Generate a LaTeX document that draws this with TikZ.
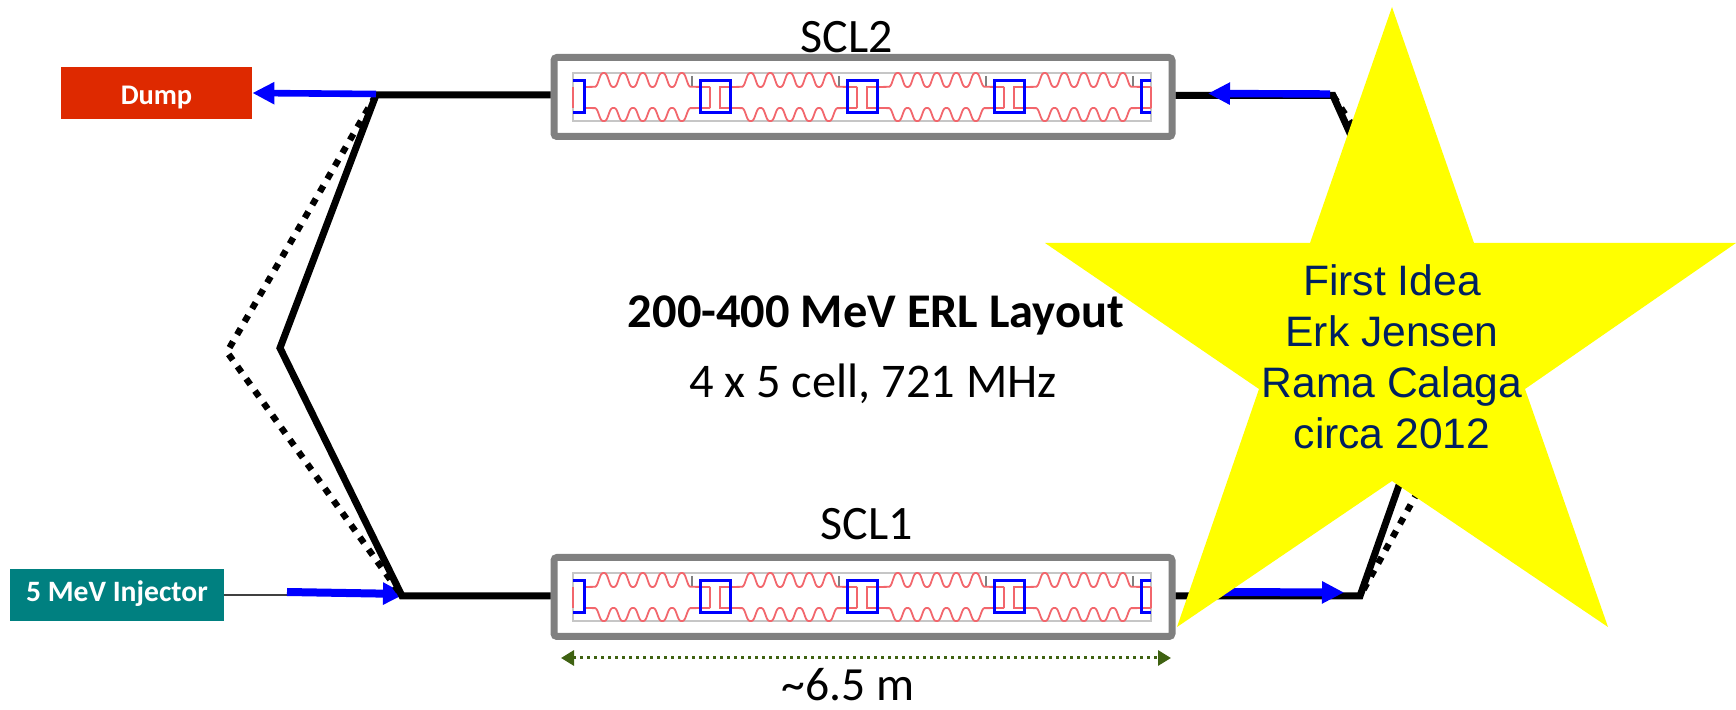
\documentclass[tikz,border=0pt]{standalone}
\usepackage{fontspec}
\setmainfont{Carlito}
\newfontfamily\starfont{Liberation Sans}
\usetikzlibrary{arrows.meta}
\definecolor{DumpClr}{HTML}{DE2900}
\definecolor{InjClr}{HTML}{008080}
\definecolor{StarClr}{rgb}{1,1,0}
\definecolor{StarTxtClr}{HTML}{002060}
\definecolor{SizeClr}{HTML}{3F6212}
\definecolor{WaveClr}{HTML}{F2666C}
\definecolor{BoxClr}{HTML}{808080}
\tikzset{
  beam/.style={line width=3.5pt,black},
  beamdots/.style={line width=3.2pt,black,dash pattern=on 3.5pt off 4pt},
  bluearrow/.style={line width=4pt,blue,-{Triangle[length=11pt,width=10.5pt]}},
  cryobox/.style={draw=BoxClr,line width=3.5pt,rounded corners=1.5pt,minimum width=309pt,minimum height=39.5pt,inner sep=0pt},
  tag/.style={text=white,font=\bfseries,inner sep=0pt},
  wave/.style={WaveClr,line width=.9pt},
  bluebox/.style={blue,line width=1.5pt},
}
% one row of cavities, #1 = shift of the row
\newcommand{\CavityRow}[1]{
\begin{scope}[shift={(0,#1)}]
  \draw[gray!45,line width=.7pt] (573,73) rectangle (1151,121);
  \foreach \i in {0,...,3}{
    \pgfmathsetmacro{\xs}{594+147*\i}
    \draw[wave] (\xs-10,87) -- plot[domain=0.06:4.94,samples=141] ({\xs+19.5*\x},{80+7.6*(cos(360*\x)-.08*cos(1080*\x))}) -- (\xs+116,87);
    \draw[wave] (\xs-10,108) -- plot[domain=0.06:4.94,samples=141] ({\xs+19.5*\x},{114.5-7.1*(cos(360*\x)-.08*cos(1080*\x))}) -- (\xs+116,108);
    \draw[gray,line width=1.1pt] (\xs+98,76) -- (\xs+98,86);
  }
  \draw[wave] (573,87) -- (573,108);
  \draw[wave] (1151,87) -- (1151,108);
  \foreach \i in {0,1,2}{
    \pgfmathsetmacro{\xs}{700+147*\i}
    \draw[wave] (\xs+10,87) -- (\xs+10,108);
    \draw[wave] (\xs+20,87) rectangle (\xs+30,108);
    \draw[bluebox] (\xs,81) rectangle (\xs+30,113);
  }
  \draw[bluebox] (573,81) -- (584,81) -- (584,113) -- (573,113);
  \draw[bluebox] (1151,81) -- (1141,81) -- (1141,113) -- (1151,113);
\end{scope}
}

\begin{document}
\begin{tikzpicture}[x=.5pt,y=-.5pt]
\useasboundingbox (0,0) rectangle (1736,710);

\coordinate (TL) at (376,95);
\coordinate (ML) at (280,348);
\coordinate (BL) at (402,596);
\coordinate (DL) at (227,352);
\coordinate (TR) at (1333,95.5);
\coordinate (MR) at (1447,349);
\coordinate (BR) at (1360,596);
\coordinate (DR) at (1497,349);

\node[cryobox] (SCLtwo) at (863,97) {};
\node[cryobox] (SCLone) at (863,597) {};
\CavityRow{0}
\CavityRow{500}

\node[fill=DumpClr,tag,minimum width=95.5pt,minimum height=26pt] (dump) at (156.5,93) {};
\node[text=white,font=\bfseries\fontsize{14.2}{16}\selectfont,inner sep=0pt] (dumpLbl) at (156.5,98) {Dump};
\node[fill=InjClr,tag,minimum width=107pt,minimum height=26pt,text height=10pt,text depth=3pt,font=\bfseries\fontsize{14.8}{16}\selectfont] (injector) at (117,595) {5 MeV Injector};

% beam lines
\draw[line width=.7pt,black!75] (injector.east) -- (300,595);
\draw[bluearrow] (287,592) -- (405,594);

\draw[beamdots] (TL) -- (DL) -- (BL);
\draw[beam,line join=miter] (SCLtwo.west|-TL) -- (TL) -- (ML) -- (BL) -- (SCLone.west|-BL);
\draw[beamdots] (TR) -- (DR) -- (BR);
\draw[beam] (SCLtwo.east|-TR) -- (TR) -- (MR) -- (BR) -- (SCLone.east|-BR);
\draw[bluearrow,line width=3.3pt] (376,94) -- (dump.east);
\draw[bluearrow,line width=3.7pt] (1330,94) -- (1208,93.5);
\draw[bluearrow] (1215,592) -- (1344,592.5);

\node[font=\fontsize{24}{28}\selectfont] (SCLtwoLbl) at (847,37) {SCL2};
\node[font=\fontsize{24}{28}\selectfont] (SCLoneLbl) at (867,524) {SCL1};
\node[font=\bfseries\fontsize{24.2}{28}\selectfont] (title) at (876,315) {200-400 MeV ERL Layout};
\node[font=\fontsize{24.2}{28}\selectfont] (subtitle) at (873,384) {4 x 5 cell, 721 MHz};

\coordinate (SizeL) at (561,658);
\coordinate (SizeR) at (1171,658);
\draw[SizeClr,line width=1.5pt,dotted,{Triangle[length=6.5pt,width=7.5pt]}-{Triangle[length=6.5pt,width=7.5pt]}] (SizeL) -- (SizeR);
\node[anchor=base,inner sep=0pt,font=\fontsize{23.8}{26}\selectfont] (sizeLbl) at (848,701) {\textasciitilde 6.5 m};

% star on top of all
\fill[StarClr] (1392,7) -- (1474,243) -- (1736,243) -- (1525,389) -- (1608,627) -- (1392,481)
  -- (1177,627) -- (1259,389) -- (1045,243) -- (1310,243) -- cycle;
\node[align=center,text=StarTxtClr,font=\starfont\fontsize{21.3}{25.5}\selectfont] (starLbl) at (1392,357) {First Idea\\Erk Jensen\\Rama Calaga\\circa 2012};
\end{tikzpicture}
\end{document}
